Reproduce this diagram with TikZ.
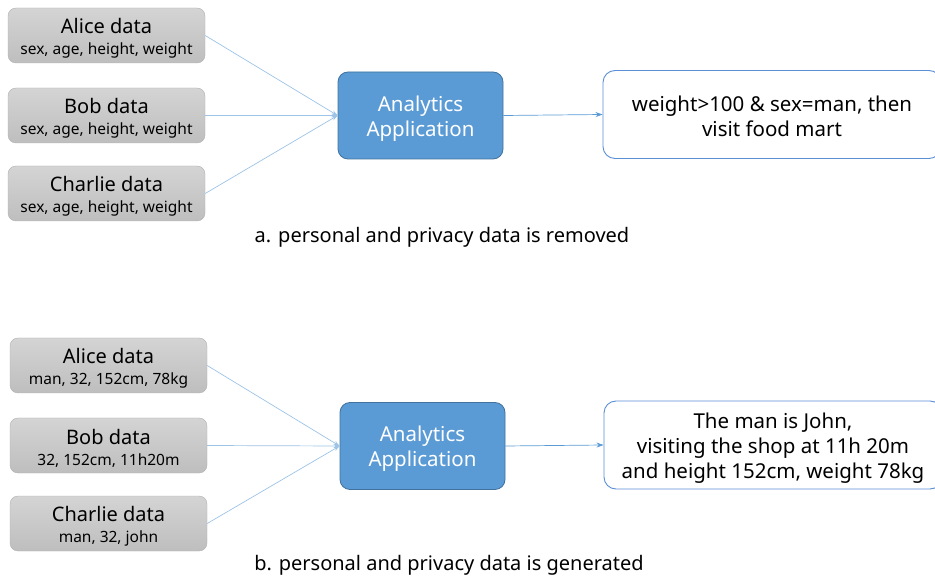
\documentclass[tikz,border=0pt]{standalone}
\usepackage{fontspec}
\setmainfont{Noto Sans}
\usetikzlibrary{arrows.meta}
\definecolor{boxgraytop}{HTML}{D4D4D4}
\definecolor{boxgraybot}{HTML}{BEBEBE}
\definecolor{boxgrayline}{HTML}{B0B0B0}
\definecolor{appblue}{HTML}{5B9BD5}
\definecolor{appline}{HTML}{41719C}
\definecolor{outline}{HTML}{5B8FD5}
\definecolor{feedline}{HTML}{9DC3E6}
\tikzset{
  databox/.style={draw=boxgrayline, top color=boxgraytop, bottom color=boxgraybot,
    rounded corners=8pt, minimum width=197pt, minimum height=55pt, inner sep=0pt},
  datatext/.style={align=center, inner sep=0pt, text=black,
    font=\fontsize{15.5}{21}\selectfont},
  appbox/.style={draw=appline, fill=appblue, rounded corners=10pt, line width=0.8pt,
    minimum width=165pt, minimum height=87pt},
  apptext/.style={align=center, inner sep=0pt, text=white,
    font=\fontsize{20.5}{25}\selectfont},
  resultbox/.style={draw=outline, fill=white, rounded corners=12pt, line width=0.9pt,
    minimum width=338pt, minimum height=88pt},
  resulttext/.style={align=center, inner sep=0pt, text=black,
    font=\fontsize{20.5}{25}\selectfont},
  feed/.style={draw=feedline, line width=0.7pt, -{Stealth[length=6pt,width=4pt]}},
  outarrow/.style={draw=appblue, line width=0.7pt, -{Stealth[length=7pt,width=5pt]}},
  caption/.style={font=\fontsize{20}{24}\selectfont, text=black},
}
\newcommand{\dname}[1]{{\fontsize{20}{21}\selectfont #1}}
\begin{document}
\begin{tikzpicture}[x=1pt,y=-1pt]
\useasboundingbox (0,0) rectangle (935,577);

% upper scenario: personal data removed
\node[databox] (a1) at (106.5,35.5) {};
\node[databox] (a2) at (106.5,115.5) {};
\node[databox] (a3) at (106.5,193.5) {};
\node[datatext] (a1t) at ([yshift=-3pt]a1.center) {\dname{Alice data}\\sex, age, height, weight};
\node[datatext] (a2t) at ([yshift=-3pt]a2.center) {\dname{Bob data}\\sex, age, height, weight};
\node[datatext] (a3t) at ([yshift=-3pt]a3.center) {\dname{Charlie data}\\sex, age, height, weight};
\node[appbox] (aapp) at (420.5,115.5) {};
\node[apptext] (aappt) at ([yshift=-3pt]aapp.center) {Analytics\\Application};
\node[resultbox] (ares) at (772,114.5) {};
\node[resulttext] (arest) at ([yshift=-2pt]ares.center) {weight>100 \& sex=man, then\\visit food mart};
\node[caption] (acap) at (442,237) {a. personal and privacy data is removed};

\draw[feed] (a1.east) -- (aapp.west);
\draw[feed] (a2.east) -- (aapp.west);
\draw[feed] (a3.east) -- (aapp.west);
\draw[outarrow] (aapp.east) -- (ares.west);

% lower scenario: personal data generated
\node[databox] (b1) at (108.5,365.5) {};
\node[databox] (b2) at (108.5,445.5) {};
\node[databox] (b3) at (108.5,523.5) {};
\node[datatext] (b1t) at ([yshift=-3pt]b1.center) {\dname{Alice data}\\man, 32, 152cm, 78kg};
\node[datatext] (b2t) at ([yshift=-3pt]b2.center) {\dname{Bob data}\\32, 152cm, 11h20m};
\node[datatext] (b3t) at ([yshift=-3pt]b3.center) {\dname{Charlie data}\\man, 32, john};
\node[appbox] (bapp) at (422.5,446) {};
\node[apptext] (bappt) at ([yshift=-3pt]bapp.center) {Analytics\\Application};
\node[resultbox] (bres) at (773,445) {};
\node[resulttext] (brest) at ([yshift=-3pt]bres.center) {The man is John,\\visiting the shop at 11h 20m\\and height 152cm, weight 78kg};
\node[caption] (bcap) at (449,565) {b. personal and privacy data is generated};

\draw[feed] (b1.east) -- (bapp.west);
\draw[feed] (b2.east) -- (bapp.west);
\draw[feed] (b3.east) -- (bapp.west);
\draw[outarrow] (bapp.east) -- (bres.west);
\end{tikzpicture}
\end{document}
